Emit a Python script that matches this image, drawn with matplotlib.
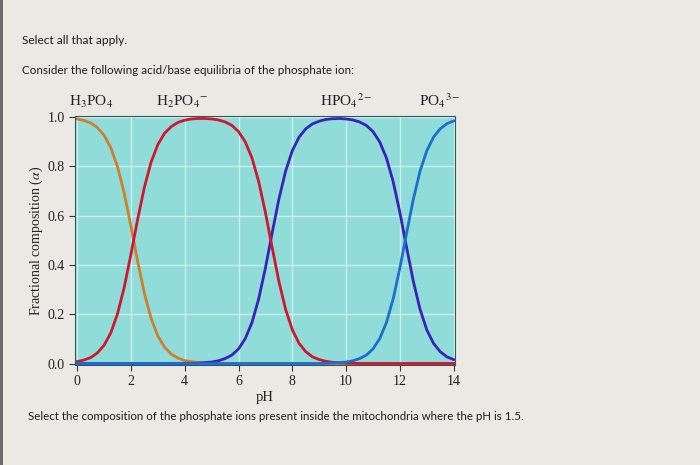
import matplotlib.pyplot as plt
from matplotlib.patches import Rectangle
from matplotlib.transforms import blended_transform_factory

plt.rcParams['font.family'] = 'serif'
plt.rcParams['font.serif'] = ['Liberation Serif']
plt.rcParams['mathtext.fontset'] = 'stix'

# pH grid (0.25 steps)
ph = [0.0, 0.25, 0.5, 0.75, 1.0, 1.25, 1.5, 1.75, 2.0, 2.25, 2.5, 2.75, 3.0, 3.25,
      3.5, 3.75, 4.0, 4.25, 4.5, 4.75, 5.0, 5.25, 5.5, 5.75, 6.0, 6.25, 6.5, 6.75,
      7.0, 7.25, 7.5, 7.75, 8.0, 8.25, 8.5, 8.75, 9.0, 9.25, 9.5, 9.75, 10.0, 10.25,
      10.5, 10.75, 11.0, 11.25, 11.5, 11.75, 12.0, 12.25, 12.5, 12.75, 13.0, 13.25,
      13.5, 13.75, 14.0]

# fractional composition of each species
h3po4 = [0.992, 0.986, 0.976, 0.957, 0.926, 0.876, 0.799, 0.691, 0.557, 0.414, 0.285,
         0.183, 0.112, 0.066, 0.038, 0.022, 0.012, 0.007, 0.004, 0.002, 0.001,
         0, 0, 0, 0, 0, 0, 0, 0, 0, 0, 0, 0, 0, 0, 0, 0, 0, 0, 0, 0, 0, 0, 0, 0, 0,
         0, 0, 0, 0, 0, 0, 0, 0, 0, 0, 0]
h2po4 = [0.008, 0.014, 0.024, 0.043, 0.074, 0.124, 0.201, 0.309, 0.443, 0.585, 0.715,
         0.817, 0.888, 0.934, 0.961, 0.978, 0.987, 0.992, 0.994, 0.994, 0.992, 0.988,
         0.980, 0.966, 0.941, 0.899, 0.834, 0.738, 0.613, 0.471, 0.334, 0.220, 0.137,
         0.082, 0.048, 0.027, 0.016, 0.009, 0.005, 0.003, 0.002, 0.001,
         0, 0, 0, 0, 0, 0, 0, 0, 0, 0, 0, 0, 0, 0, 0]
hpo4 = [0, 0, 0, 0, 0, 0, 0, 0, 0, 0, 0, 0, 0, 0, 0, 0,
        0.001, 0.001, 0.002, 0.004, 0.006, 0.011, 0.020, 0.034, 0.059, 0.101, 0.166,
        0.262, 0.387, 0.529, 0.666, 0.780, 0.863, 0.918, 0.952, 0.972, 0.983, 0.990,
        0.993, 0.994, 0.992, 0.988, 0.980, 0.966, 0.941, 0.899, 0.834, 0.738, 0.613,
        0.471, 0.334, 0.220, 0.137, 0.082, 0.048, 0.027, 0.016]
po4 = [0, 0, 0, 0, 0, 0, 0, 0, 0, 0, 0, 0, 0, 0, 0, 0, 0, 0, 0, 0, 0, 0, 0, 0, 0,
       0, 0, 0, 0, 0, 0, 0, 0, 0, 0, 0, 0,
       0.001, 0.002, 0.004, 0.006, 0.011, 0.020, 0.034, 0.059, 0.101, 0.166, 0.262,
       0.387, 0.529, 0.666, 0.780, 0.863, 0.918, 0.952, 0.973, 0.984]

species_labels = [r'H$_3$PO$_4$', r'H$_2$PO$_4$$^{-}$', r'HPO$_4$$^{2-}$', r'PO$_4$$^{3-}$']
label_ph = [0.5, 3.9, 10.0, 13.5]

x_ticks = [0, 2, 4, 6, 8, 10, 12, 14]
y_ticks = [0.0, 0.2, 0.4, 0.6, 0.8, 1.0]

fig = plt.figure(figsize=(7, 4.65), dpi=100)
fig.patch.set_facecolor('#ebe9e4')
fig.add_artist(Rectangle((0, 0), 0.004, 1, transform=fig.transFigure,
                         facecolor='#6b6b6b', edgecolor='none'))

# question text
sans = ['Lato', 'DejaVu Sans']
fig.text(22 / 700, 1 - 40 / 465, 'Select all that apply.', family=sans,
         fontsize=8.6, color='#1e1e1e', va='center')
fig.text(22 / 700, 1 - 70 / 465,
         'Consider the following acid/base equilibria of the phosphate ion:',
         family=sans, fontsize=8.4, color='#1e1e1e', va='center')
fig.text(28 / 700, 1 - 417 / 465,
         'Select the composition of the phosphate ions present inside the mitochondria where the pH is 1.5.',
         family=sans, fontsize=8.3, color='#1e1e1e', va='center')

ax = fig.add_axes([75 / 700, 1 - 365 / 465, 380 / 700, 249 / 465])
ax.set_facecolor('#8fdcd8')

ax.plot(ph, h3po4, color='#cf7f2c', linewidth=2)
ax.plot(ph, hpo4, color='#3a22b8', linewidth=2)
ax.plot(ph, h2po4, color='#d1162e', linewidth=2)
ax.plot(ph, po4, color='#1d6fce', linewidth=2)

ax.set_xlim(-0.08, 14.05)
ax.set_ylim(-0.006, 1.004)
ax.set_xticks(x_ticks)
ax.set_yticks(y_ticks)
ax.set_xticklabels([str(t) for t in x_ticks])
ax.set_yticklabels(['%.1f' % t for t in y_ticks])
ax.tick_params(direction='out', length=4, width=0.8, color='#333333',
               labelsize=10, labelcolor='#222222')
ax.grid(True, color='white', alpha=0.55, linewidth=1)
ax.set_axisbelow(True)
for side in ['left', 'bottom', 'top', 'right']:
    ax.spines[side].set_color('#2f5a60')
    ax.spines[side].set_linewidth(0.8)

ax.set_xlabel('pH', fontsize=10.5, labelpad=2, color='#222222')
ax.set_ylabel(r'Fractional composition ($\alpha$)', fontsize=10, labelpad=2, color='#222222')

trans = blended_transform_factory(ax.transData, ax.transAxes)
for lab, xp in zip(species_labels, label_ph):
    ax.text(xp, 1.025, lab, transform=trans, ha='center', va='bottom',
            fontsize=11, color='#222222')

plt.savefig('out.png', dpi=100, facecolor=fig.get_facecolor())
